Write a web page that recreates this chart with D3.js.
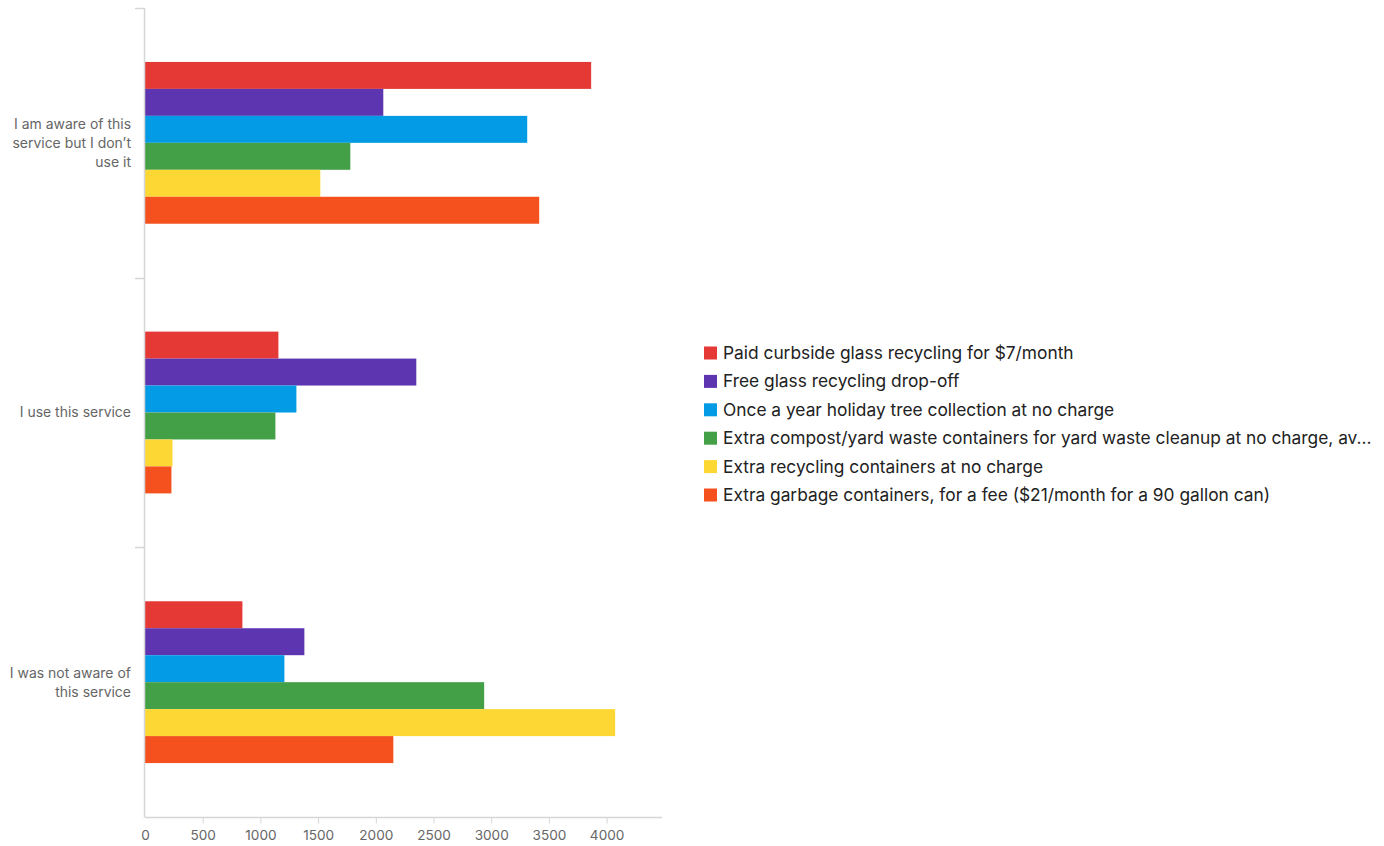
<!DOCTYPE html>
<html>
<head>
<meta charset="utf-8">
<script src="https://cdn.jsdelivr.net/npm/d3@7"></script>
<style>
  html, body { margin: 0; padding: 0; background: #fff; }
  svg { display: block; font-family: Inter, Roboto, "Noto Sans", sans-serif; }
</style>
</head>
<body>
<svg id="chart" width="1384" height="846"></svg>
<script>
const categories = [
  ["I am aware of this", "service but I don’t", "use it"],
  ["I use this service"],
  ["I was not aware of", "this service"]
];
const seriesNames = [
  "Paid curbside glass recycling for $7/month",
  "Free glass recycling drop-off",
  "Once a year holiday tree collection at no charge",
  "Extra compost/yard waste containers for yard waste cleanup at no charge, av...",
  "Extra recycling containers at no charge",
  "Extra garbage containers, for a fee ($21/month for a 90 gallon can)"
];
const seriesColors = ["#E53935", "#5E35B1", "#039BE5", "#43A047", "#FDD835", "#F4511E"];
// values[series][category]
const paidGlass    = [3866, 1156, 844];
const freeGlass    = [2065, 2351, 1381];
const treeCollect  = [3312, 1312, 1208];
const extraCompost = [1779, 1130, 2939];
const extraRecycle = [1519, 238, 4074];
const extraGarbage = [3416, 229, 2152];
const seriesValues = [paidGlass, freeGlass, treeCollect, extraCompost, extraRecycle, extraGarbage];
const xTicks = [0, 500, 1000, 1500, 2000, 2500, 3000, 3500, 4000];
const xMax = 4480;

const svg = d3.select("#chart");
const axisColor = "#d6d6d6";
const textGray = "#666";
const FONT = "Inter, Roboto, sans-serif";

// size a font so a sample string matches a target pixel width
function fitSize(sample, target) {
  const t = svg.append("text").attr("font-family", FONT).attr("font-size", 20).text(sample);
  const w = t.node().getComputedTextLength();
  t.remove();
  return w > 0 ? 20 * target / w : 14;
}
const catSize = fitSize("I am aware of this", 117);
const tickSize = fitSize("4000", 34.5);
const legSize = fitSize(seriesNames[0], 351);

const x = d3.scaleLinear().domain([0, xMax]).range([145, 662]);
const catIdx = categories.map((_, i) => i);
const y = d3.scaleBand().domain(catIdx).range([8, 817]).paddingInner(0.4).paddingOuter(0.2);
const ySub = d3.scaleBand().domain(seriesNames.map((_, i) => i)).range([0, y.bandwidth()]);

// bars
const groups = svg.append("g").selectAll("g").data(catIdx).join("g")
  .attr("transform", c => `translate(0,${y(c)})`);
groups.selectAll("rect")
  .data(c => seriesValues.map((vals, s) => ({ s, v: vals[c] })))
  .join("rect")
  .attr("x", x(0))
  .attr("y", d => ySub(d.s))
  .attr("height", ySub.bandwidth())
  .attr("width", d => x(d.v) - x(0))
  .attr("fill", d => seriesColors[d.s]);

// y axis line and separators
const step = y.step();
const catTop = c => y(c) - y.paddingOuter() * step;
svg.append("line").attr("x1", 144.5).attr("x2", 144.5).attr("y1", 8).attr("y2", 817.5)
  .attr("stroke", axisColor).attr("stroke-width", 1.5);
catIdx.forEach(c => {
  const yy = Math.round(catTop(c)) + 0.5;
  svg.append("line").attr("x1", 135).attr("x2", 144.5).attr("y1", yy).attr("y2", yy)
    .attr("stroke", axisColor).attr("stroke-width", 1.5);
});

// category labels
const lineH = 19;
catIdx.forEach(c => {
  const lines = categories[c];
  const cy = y(c) + y.bandwidth() / 2;
  const t = svg.append("text")
    .attr("text-anchor", "end")
    .attr("fill", textGray)
    .attr("font-family", FONT)
    .attr("font-size", catSize);
  lines.forEach((ln, i) => {
    t.append("tspan")
      .attr("x", 131)
      .attr("y", cy + (i - (lines.length - 1) / 2) * lineH)
      .attr("dy", "0.35em")
      .text(ln);
  });
});

// x axis
const xAxis = d3.axisBottom(x).tickValues(xTicks).tickSize(6).tickPadding(7).tickFormat(d3.format("d"));
const gx = svg.append("g").attr("transform", "translate(0,817.5)").call(xAxis);
gx.select(".domain").attr("d", `M${x(0)},0H${x(xMax)}`).attr("stroke", axisColor).attr("stroke-width", 1.5);
gx.selectAll(".tick line").attr("stroke", axisColor);
gx.selectAll(".tick").filter(d => d === 0).select("line").remove();
gx.selectAll(".tick text").attr("fill", textGray).attr("font-size", tickSize).attr("font-family", FONT);

// legend
const legend = svg.append("g").attr("transform", "translate(704,353)");
const li = legend.selectAll("g").data(seriesNames).join("g")
  .attr("transform", (d, i) => `translate(0,${i * 28.4})`);
li.append("rect").attr("x", 0).attr("y", -6.5).attr("width", 13).attr("height", 13)
  .attr("fill", (d, i) => seriesColors[i]);
li.append("text").attr("x", 19).attr("y", 0).attr("dy", "0.35em")
  .attr("font-family", FONT)
  .attr("font-size", legSize).attr("fill", "#222").text(d => d);
</script>
</body>
</html>
